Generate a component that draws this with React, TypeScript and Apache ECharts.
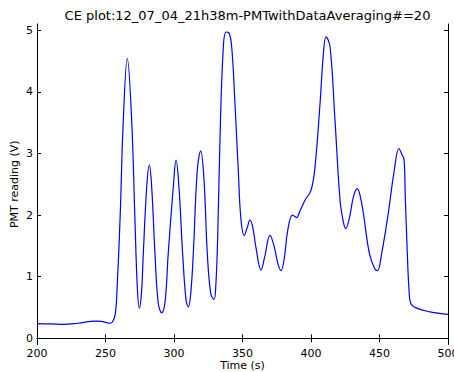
import React, { useEffect, useRef } from "react";
import * as echarts from "echarts";

const timeValues = [
  200, 210, 219.5, 230, 242.6, 247, 250, 253.5, 255.5, 257.2, 258.4, 260.6, 263, 265.9, 269.1, 271.5, 273.2, 274.7,
  276.3, 277.6, 280.1, 282, 283.7, 286.1, 288.5, 291, 293.5, 295.8, 299.5, 301.5, 303.6, 306.3, 308.8, 310.5,
  312.3, 314.1, 317, 319.5, 321.9, 324.3, 326.8, 329.2, 330.5, 331.9, 333.6, 336, 338, 340, 342.1, 344.5, 346.9,
  348.9, 351.3, 353.5, 355.5, 357.5, 360, 363.5, 366, 370.1, 373, 376, 378.1, 380.5, 383, 386.4, 388, 389.5, 392,
  395.6, 400, 402.9, 406.6, 409, 411, 413.9, 417.5, 421.2, 423.5, 425.3, 428, 431, 433.8, 436, 438.2, 442.6, 446.7,
  448.5, 451.6, 456.4, 460.8, 464.2, 466, 467.9, 468.8, 470.3, 471.5, 472.8, 477.1, 486.9, 500,
];
const pmtValues = [
  0.24, 0.235, 0.225, 0.245, 0.28, 0.275, 0.26, 0.245, 0.28, 0.4, 0.78, 1.92, 3.54, 4.54, 3.54, 1.92, 0.84, 0.49,
  0.75, 1.38, 2.46, 2.81, 2.46, 1.38, 0.57, 0.415, 0.6, 1.38, 2.46, 2.89, 2.46, 1.38, 0.62, 0.51,
  0.75, 1.38, 2.73, 3.04, 2.57, 1.38, 0.73, 0.63, 0.85, 1.65, 3.27, 4.73, 4.97, 4.96, 4.73, 3.81, 2.73,
  1.92, 1.67, 1.8, 1.92, 1.8, 1.45, 1.11, 1.3, 1.67, 1.5, 1.2, 1.1, 1.3, 1.75, 2.0, 1.98, 1.96, 2.07,
  2.24, 2.4, 2.78, 3.81, 4.6, 4.89, 4.73, 3.54, 2.24, 1.9, 1.78, 1.95, 2.3, 2.43, 2.3, 2.03, 1.38, 1.12,
  1.1, 1.38, 2.03, 2.73, 3.08, 3.0, 2.9, 2.3, 1.38, 0.8, 0.57, 0.49, 0.43, 0.39,
];
const xTicks = [200, 250, 300, 350, 400, 450, 500];
const yTicks = [0, 1, 2, 3, 4, 5];

const FONT = "DejaVu Sans";

export default function App() {
  const ref = useRef<HTMLDivElement>(null);
  useEffect(() => {
    if (!ref.current) return;
    const chart = echarts.init(ref.current, undefined, { renderer: "svg" });
    const data = timeValues.map((t, i) => [t, pmtValues[i]]);
    const axisLine = { show: true, lineStyle: { color: "#000", width: 1 } };
    const tick = { show: true, inside: true, length: 4, lineStyle: { color: "#000" } };
    chart.setOption({
      animation: false,
      backgroundColor: "#fff",
      title: {
        text: "CE plot:12_07_04_21h38m-PMTwithDataAveraging#=20",
        left: 242.5,
        textAlign: "center",
        top: 4,
        textStyle: { fontFamily: FONT, fontSize: 13, fontWeight: "normal", color: "#000" },
      },
      grid: { left: 37, right: 6, top: 24, bottom: 27.5, outerBoundsMode: "none", containLabel: false },
      xAxis: [
        {
          type: "value",
          min: 200,
          max: 500,
          position: "bottom",
          name: "Time (s)",
          nameLocation: "middle",
          nameGap: 15,
          nameMoveOverlap: false,
          nameTextStyle: { fontFamily: FONT, fontSize: 11, lineHeight: 11, color: "#000" },
          axisLine,
          axisTick: { ...tick, customValues: xTicks },
          axisLabel: {
            customValues: xTicks,
            fontFamily: FONT,
            fontSize: 11,
            lineHeight: 11,
            color: "#000",
            margin: 3,
          },
          splitLine: { show: false },
        },
        {
          type: "value",
          min: 200,
          max: 500,
          position: "top",
          axisLine,
          axisTick: { ...tick, customValues: xTicks },
          axisLabel: { show: false },
          splitLine: { show: false },
        },
      ],
      yAxis: [
        {
          type: "value",
          min: -0.1,
          max: 5.1,
          position: "left",
          name: "PMT reading (V)",
          nameLocation: "middle",
          nameGap: 17,
          nameMoveOverlap: false,
          nameTextStyle: { fontFamily: FONT, fontSize: 11, color: "#000" },
          axisLine,
          axisTick: { ...tick, customValues: yTicks },
          axisLabel: { customValues: yTicks, fontFamily: FONT, fontSize: 11, color: "#000", margin: 4 },
          splitLine: { show: false },
        },
        {
          type: "value",
          min: -0.1,
          max: 5.1,
          position: "right",
          axisLine,
          axisTick: { ...tick, customValues: yTicks },
          axisLabel: { show: false },
          splitLine: { show: false },
        },
      ],
      series: [
        {
          type: "line",
          data,
          xAxisIndex: 0,
          yAxisIndex: 0,
          showSymbol: false,
          smooth: 0.4,
          lineStyle: { color: "#0000ff", width: 1.2 },
          clip: true,
        },
      ],
    });
    return () => chart.dispose();
  }, []);
  return (
    <div
      ref={ref}
      style={{ position: "absolute", left: 0, top: 0, width: 454, height: 372, background: "#fff" }}
    />
  );
}
